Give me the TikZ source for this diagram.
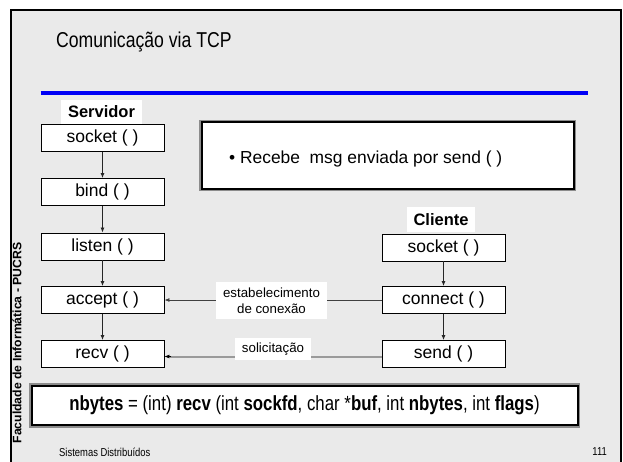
\documentclass[tikz,border=0pt]{standalone}
\usepackage{fontspec}
\setmainfont{Liberation Sans}
\newfontfamily\narrowfont[FakeStretch=0.82]{Liberation Sans}
\usetikzlibrary{arrows.meta}
\definecolor{slidebg}{HTML}{EAEAEA}
\definecolor{rulerblue}{RGB}{0,0,245}
\definecolor{reqgray}{HTML}{9A9A9A}
\begin{document}
\begin{tikzpicture}[x=1pt,y=-1pt,
  fn/.style={draw=black, line width=0.9pt, fill=white, minimum width=123pt,
    minimum height=27pt, inner sep=0pt, font=\fontsize{17.5}{20}\selectfont},
  tag/.style={fill=white, inner sep=0pt, font=\bfseries\fontsize{16.5}{19}\selectfont},
  lbl/.style={fill=white, inner sep=0pt, align=center, font=\fontsize{13.3}{16}\selectfont},
  framed/.style={draw=black, line width=2pt, fill=white, inner sep=0pt,
    preaction={draw=black!45, line width=4.6pt}},
  flow/.style={-{Latex[length=5pt,width=4pt]}, line width=0.8pt, draw=black!85},
]
\useasboundingbox (0,0) rectangle (623,461);
\clip (0,0) rectangle (623,461);
\fill[white] (0,0) rectangle (623,461);
% slide frame
\draw[fill=slidebg, line width=2pt] (11,9.5) rectangle (620.5,480);
% title and rule
\node[anchor=west, inner sep=0pt, font=\narrowfont\fontsize{21.5}{24}\selectfont] (title) at (56,42) {Comunicação via TCP};
\draw[rulerblue, line width=4pt] (40.6,93) -- (587.6,93);
% side caption
\node[rotate=90, inner sep=0pt, font=\bfseries\fontsize{12.2}{14}\selectfont] (fac) at (17,343) {Faculdade de Informática - PUCRS};
% server column
\node[tag, minimum width=81pt, minimum height=24pt] (srv) at (101.5,112) {Servidor};
\node[fn] (ssock) at (102.5,138) {socket ( )};
\node[fn] (sbind) at (102.5,192) {bind ( )};
\node[fn] (slist) at (102.5,246.5) {listen ( )};
\node[fn] (sacc) at (102.5,300) {accept ( )};
\node[fn] (srecv) at (102.5,354) {recv ( )};
% client column
\node[tag, minimum width=68pt, minimum height=25pt] (cli) at (441,219.5) {Cliente};
\node[fn] (csock) at (443.5,247.5) {socket ( )};
\node[fn] (cconn) at (443.5,300) {connect ( )};
\node[fn] (csend) at (443.5,354) {send ( )};
% note box
\node[framed, minimum width=372pt, minimum height=66.5pt] (note) at (387.5,155.25) {};
\node[anchor=west, inner sep=0pt, font=\fontsize{17.4}{20}\selectfont] (notetxt) at (229,159) {\textbullet\ Recebe\ \ msg enviada por send ( )};
% signature box
\node[framed, minimum width=546pt, minimum height=39.5pt, font=\narrowfont\fontsize{20.5}{23}\selectfont] (sig) at (304.5,405.5)
  {\textbf{nbytes} = (int) \textbf{recv} (int \textbf{sockfd}, char *\textbf{buf}, int \textbf{nbytes}, int \textbf{flags})};
% vertical flow
\draw[flow] (ssock) -- (sbind);
\draw[flow] (sbind) -- (slist);
\draw[flow] (slist) -- (sacc);
\draw[flow] (sacc) -- (srecv);
\draw[flow] (csock) -- (cconn);
\draw[flow] (cconn) -- (csend);
% messages between the two sides
\draw[flow, draw=black!75] (cconn.west) -- (sacc.east);
\node[lbl, minimum width=111pt, minimum height=37pt] (est) at (271.5,300.3) {estabelecimento\\de conexão};
\draw[draw=reqgray, line width=2pt] ([yshift=-2.5pt]csend.west) -- ([yshift=-2.5pt,xshift=6pt]srecv.east);
\draw[-{Latex[length=5pt,width=4pt]}, draw=black, line width=0.6pt] ([yshift=-2.5pt,xshift=7pt]srecv.east) -- ([yshift=-2.5pt]srecv.east);
\node[lbl, minimum width=76pt, minimum height=22pt] (sol) at (273,349) {solicitação};
% footer
\node[anchor=west, inner sep=0pt, font=\narrowfont\fontsize{11.5}{13}\selectfont] (foot) at (59,452) {Sistemas Distribuídos};
\node[anchor=east, inner sep=0pt, font=\narrowfont\fontsize{11.5}{13}\selectfont] (page) at (607,452) {111};
\end{tikzpicture}
\end{document}
